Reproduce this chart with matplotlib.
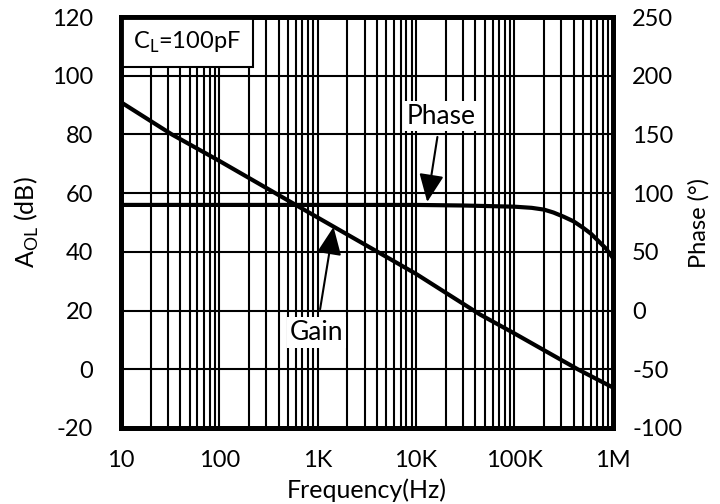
import matplotlib
matplotlib.use("Agg")
import matplotlib.pyplot as plt
from matplotlib.ticker import LogLocator, NullFormatter

plt.rcParams['font.family'] = ['Lato', 'DejaVu Sans']
plt.rcParams['mathtext.fontset'] = 'custom'
plt.rcParams['mathtext.rm'] = 'Lato'
plt.rcParams['axes.unicode_minus'] = False

# data
gain_freq = [10, 33, 100, 1e3, 1e4, 4.5e4, 1e5, 2.2e5, 4.4e5, 1e6]
gain_db = [91, 80, 71, 51.7, 32.5, 18.6, 12.2, 5.7, 0, -6.2]

phase_freq = [10, 1e3, 1e4, 3e4, 1e5, 1.5e5, 2e5, 2.5e5, 3.16e5, 4e5,
              5e5, 6e5, 7e5, 8.5e5, 1e6]
phase_deg = [90, 90, 90, 89.5, 88.5, 87.5, 86, 83.5, 80, 76,
             70.5, 65.5, 60, 53, 45]

xticks = [10, 100, 1e3, 1e4, 1e5, 1e6]
xlabels = ['10', '100', '1K', '10K', '100K', '1M']

fig = plt.figure(figsize=(7.2, 5.04), dpi=100)
ax = fig.add_axes([0.168, 0.151, 0.683, 0.815])
ax.set_xscale('log')
ax.set_xlim(10, 1e6)
ax.set_ylim(-20, 120)
ax.set_yticks(range(-20, 121, 20))
ax.set_xticks(xticks)
ax.set_xticklabels(xlabels)
ax.xaxis.set_minor_locator(LogLocator(base=10, subs=range(2, 10)))
ax.xaxis.set_minor_formatter(NullFormatter())
ax.grid(True, which='both', axis='x', color='black', lw=1.5)
ax.grid(True, which='major', axis='y', color='black', lw=1.5)
ax.tick_params(which='both', length=0, labelsize=17)
ax.tick_params(axis='y', pad=20)
ax.tick_params(axis='x', pad=16)
for s in ax.spines.values():
    s.set_linewidth(3.5)

ax.plot(gain_freq, gain_db, color='black', lw=3, zorder=3)

ax2 = ax.twinx()
ax2.set_ylim(-100, 250)
ax2.set_yticks(range(-100, 251, 50))
ax2.tick_params(length=0, labelsize=17, pad=14)
ax2.plot(phase_freq, phase_deg, color='black', lw=3, zorder=3)
for s in ax2.spines.values():
    s.set_linewidth(3.5)

ax.set_xlabel('Frequency(Hz)', fontsize=18, labelpad=5)
ax.set_ylabel(r'A$_\mathregular{OL}$ (dB)', fontsize=18, labelpad=8)
ax2.set_ylabel('Phase (°)', fontsize=17, labelpad=4)

# load capacitance note, box sits in the top-left corner
ax.text(0.025, 0.969, r'C$_\mathregular{L}$=100pF', transform=ax.transAxes,
        fontsize=17, va='top', ha='left', zorder=5,
        bbox=dict(boxstyle='square,pad=0.5', fc='white', ec='black', lw=1.5))

ax.annotate('Phase', xy=(1.3e4, 57), xytext=(1.78e4, 86.2), fontsize=19,
            ha='center', va='center', zorder=6,
            bbox=dict(boxstyle='square,pad=0.1', fc='white', ec='none'),
            arrowprops=dict(arrowstyle='-|>,head_length=0.9,head_width=0.4',
                            color='black', lw=1.5, shrinkA=4, shrinkB=0))
ax.annotate('Gain', xy=(1.45e3, 48.5), xytext=(968, 12.5), fontsize=19,
            ha='center', va='center', zorder=6,
            bbox=dict(boxstyle='square,pad=0.1', fc='white', ec='none'),
            arrowprops=dict(arrowstyle='-|>,head_length=0.9,head_width=0.4',
                            color='black', lw=1.5, shrinkA=6, shrinkB=0))

fig.savefig('out.png', dpi=100)
